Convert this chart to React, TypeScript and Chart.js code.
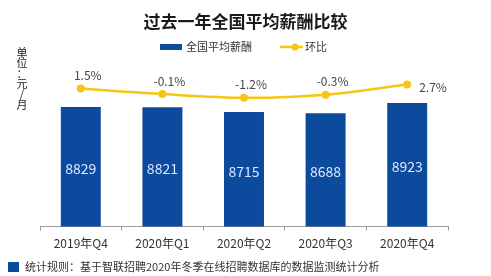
import React, { useEffect, useRef } from "react";
import { Chart, registerables } from "chart.js";

Chart.register(...registerables);

const categories = ["2019年Q4", "2020年Q1", "2020年Q2", "2020年Q3", "2020年Q4"];
const salaries = [8829, 8821, 8715, 8688, 8923];
const momChange = [1.5, -0.1, -1.2, -0.3, 2.7];
const titleText = "过去一年全国平均薪酬比较";
const seriesNames = ["全国平均薪酬", "环比"];
const yAxisLabel = ["单", "位", "：", "元", "/", "月"];
const footnote = "统计规则：基于智联招聘2020年冬季在线招聘数据库的数据监测统计分析";

const BLUE = "#0c4a9e";
const YELLOW = "#f5c714";
const FONT = "'Noto Sans CJK SC', 'Noto Sans', sans-serif";

const decorPlugin = {
  id: "decor",
  afterDraw(chart: any) {
    const ctx = chart.ctx;
    const w = chart.width;
    ctx.save();
    // title
    ctx.fillStyle = "#1a1a1a";
    ctx.font = `bold 17px ${FONT}`;
    ctx.textAlign = "center";
    ctx.textBaseline = "middle";
    ctx.fillText(titleText, w / 2, 22);
    // legend
    ctx.font = `11px ${FONT}`;
    ctx.textAlign = "left";
    ctx.fillStyle = BLUE;
    ctx.fillRect(160, 44, 22, 6);
    ctx.fillStyle = "#333";
    ctx.fillText(seriesNames[0], 186, 47);
    ctx.strokeStyle = YELLOW;
    ctx.lineWidth = 2.5;
    ctx.beginPath();
    ctx.moveTo(280, 47);
    ctx.lineTo(303, 47);
    ctx.stroke();
    ctx.fillStyle = YELLOW;
    ctx.beginPath();
    ctx.arc(295, 47, 3.5, 0, Math.PI * 2);
    ctx.fill();
    ctx.fillStyle = "#333";
    ctx.fillText(seriesNames[1], 305, 47);
    // y axis label (vertical)
    ctx.font = `11px ${FONT}`;
    ctx.textAlign = "center";
    ctx.fillStyle = "#222";
    yAxisLabel.forEach((ch, i) => {
      ctx.fillText(ch, 22, 53 + i * 10.3);
    });
    // footnote
    ctx.fillStyle = BLUE;
    ctx.fillRect(8, 262, 11, 10);
    ctx.fillStyle = "#333";
    ctx.textAlign = "left";
    ctx.font = `11px ${FONT}`;
    ctx.fillText(footnote, 25, 267);

    // bar value labels
    const xs = chart.scales.x;
    const ys = chart.scales.y;
    ctx.font = `14px ${FONT}`;
    ctx.textAlign = "center";
    ctx.fillStyle = "#dce8ff";
    salaries.forEach((v, i) => {
      const x = xs.getPixelForValue(i);
      const top = ys.getPixelForValue(v);
      const base = chart.chartArea.bottom;
      ctx.fillText(String(v), x, (top + base) / 2 + 2);
    });
    // line labels
    const y1 = chart.scales.y1;
    ctx.font = `12px ${FONT}`;
    ctx.fillStyle = "#444";
    const n = momChange.length;
    momChange.forEach((v, i) => {
      const px = xs.getPixelForValue(i);
      const py = y1.getPixelForValue(v);
      const txt = v.toFixed(1) + "%";
      if (i === n - 1) {
        ctx.textAlign = "left";
        ctx.fillText(txt, px + 12, py + 3);
      } else {
        ctx.textAlign = "center";
        ctx.fillText(txt, px + 7, py - 13);
      }
    });
    ctx.restore();
  },
};

export default function App() {
  const ref = useRef<HTMLCanvasElement>(null);
  useEffect(() => {
    document.body.style.margin = "0";
    const chart = new Chart(ref.current!, {
      type: "bar",
      data: {
        labels: categories,
        datasets: [
          {
            type: "bar",
            label: seriesNames[0],
            data: salaries,
            backgroundColor: BLUE,
            yAxisID: "y",
            categoryPercentage: 0.98,
            barPercentage: 0.5,
            order: 2,
          },
          {
            type: "line",
            label: seriesNames[1],
            data: momChange,
            borderColor: YELLOW,
            backgroundColor: YELLOW,
            borderWidth: 2.5,
            pointRadius: 4,
            pointBackgroundColor: YELLOW,
            pointBorderWidth: 0,
            tension: 0.3,
            yAxisID: "y1",
            order: 1,
          },
        ],
      },
      options: {
        responsive: false,
        animation: false,
        layout: { padding: { left: 40, right: 43, top: 60, bottom: 19 } },
        plugins: {
          legend: { display: false },
          title: { display: false },
          tooltip: { enabled: false },
        },
        scales: {
          x: {
            offset: true,
            grid: {
              display: true,
              drawOnChartArea: false,
              drawTicks: true,
              tickLength: 4,
              color: "#9a9a9a",
              offset: true,
            },
            border: { display: true, color: "#9a9a9a" },
            ticks: { color: "#333", font: { size: 12, family: FONT }, padding: 6 },
          },
          y: { display: false, min: 6080, max: 9910 },
          y1: { display: false, min: -39, max: 9.9 },
        },
      },
      plugins: [decorPlugin],
    });
    return () => chart.destroy();
  }, []);
  return <canvas ref={ref} width={491} height={276} style={{ display: "block" }} />;
}
